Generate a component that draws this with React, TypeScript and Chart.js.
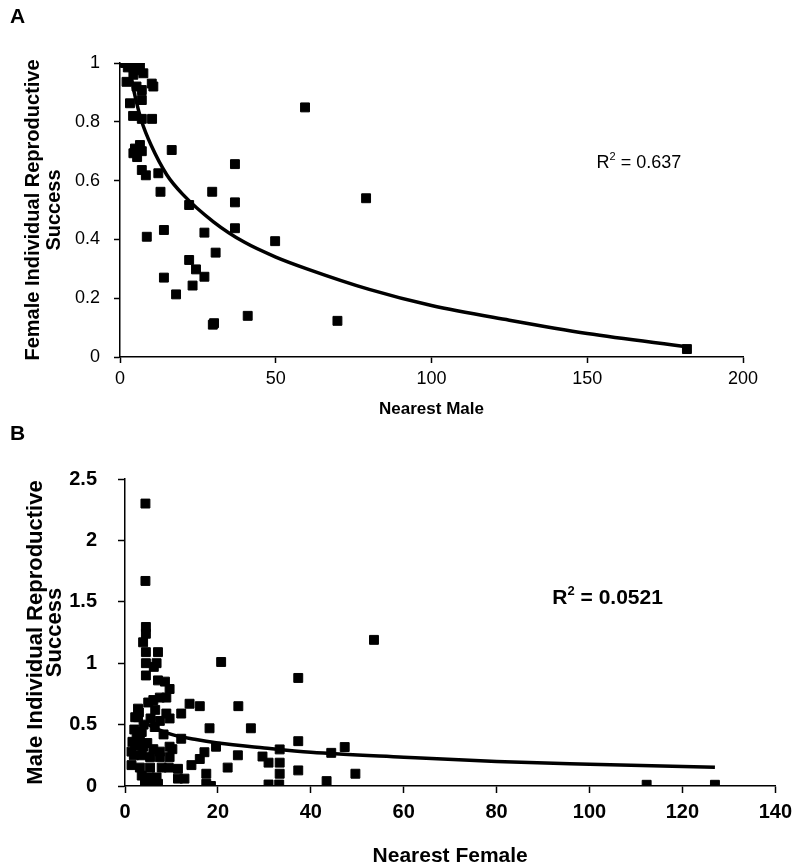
import React, { useEffect, useRef } from "react";
import { Chart, registerables } from "chart.js";
Chart.register(...registerables);

const FONT = '"Liberation Sans", Arial, Helvetica, sans-serif';

// Panel A: female reproductive success vs nearest male distance
const femaleNearestMale = [
  1.6, 3.0, 4.3, 6.0, 6.4, 2.5, 5.0, 2.1, 4.3, 7.5, 7.0, 10.2, 10.7, 5.3, 3.2, 7.0,
  4.2, 7.0, 10.3, 4.8, 6.4, 4.3, 5.5, 7.0, 7.0, 8.3, 12.3, 16.6, 36.9, 59.4, 79.0,
  36.9, 29.6, 13.0, 36.9, 22.2, 49.8, 27.1, 14.1, 8.6, 30.7, 22.2, 24.4, 27.1, 14.1,
  23.3, 18.0, 29.8, 30.2, 41.0, 69.8, 182.0,
];
const femaleSuccess = [
  1.0, 1.0, 1.0, 0.99, 0.985, 0.985, 0.975, 0.936, 0.96, 0.965, 0.908, 0.93, 0.92, 0.92, 0.863, 0.874,
  0.82, 0.81, 0.81, 0.709, 0.721, 0.693, 0.68, 0.70, 0.636, 0.618, 0.625, 0.704, 0.656, 0.849, 0.54,
  0.526, 0.562, 0.562, 0.438, 0.517, 0.394, 0.423, 0.432, 0.409, 0.355, 0.33, 0.298, 0.273, 0.27,
  0.243, 0.213, 0.11, 0.115, 0.14, 0.123, 0.027,
];
const femaleTrendX = [3, 4, 5, 7, 10, 15, 20, 30, 40, 50, 60, 80, 100, 125, 150, 182];
const femaleTrendY = [1.0, 0.93, 0.88, 0.8, 0.72, 0.62, 0.555, 0.46, 0.39, 0.34, 0.30, 0.23, 0.175, 0.125, 0.08, 0.035];
const femaleR2 = "0.637";

// Panel B: male reproductive success vs nearest female distance
const maleNearestFemale = [
  4.4, 4.4, 4.5, 4.5, 3.9, 4.5, 7.1, 4.5, 6.8, 6.2, 4.5, 7.1, 8.6, 9.6, 8.9, 7.5, 6.1, 5.0, 2.8,
  13.9, 16.1, 24.4, 12.1, 9.6, 7.5, 8.9, 2.8, 6.4, 2.5, 18.2, 27.1, 3.6, 12.1, 9.6, 19.6, 2.1,
  3.9, 6.1, 7.5, 1.9, 3.6, 5.4, 7.5, 9.6, 17.1, 16.1, 24.3, 1.4, 3.2, 5.4, 7.9, 9.4, 14.3, 22.1,
  11.4, 11.4, 12.8, 3.6, 5.4, 6.8, 17.5, 17.5, 4.3, 5.7, 7.1, 20.7, 37.3, 53.6, 37.3, 47.3, 44.4,
  33.3, 29.6, 30.9, 33.3, 33.3, 37.3, 49.6, 43.4, 30.9, 33.2, 112.3, 127.0, 1.4, 1.6, 2.0, 2.2,
  3.0, 4.0, 5.5, 6.5, 3.2, 4.8, 8.3, 10.2, 4.6, 5.8, 18.5,
];
const maleSuccess = [
  2.3, 1.67, 1.295, 1.24, 1.17, 1.09, 1.09, 1.0, 1.0, 0.97, 0.9, 0.86, 0.85, 0.79, 0.72, 0.72, 0.7, 0.68, 0.63,
  0.67, 0.65, 0.65, 0.59, 0.55, 0.53, 0.59, 0.56, 0.48, 0.43, 0.47, 0.47, 0.44, 0.385, 0.32, 0.32, 0.33,
  0.32, 0.30, 0.28, 0.25, 0.25, 0.235, 0.235, 0.235, 0.275, 0.22, 0.25, 0.17, 0.15, 0.15, 0.15, 0.15, 0.17, 0.15,
  0.14, 0.06, 0.06, 0.085, 0.07, 0.07, 0.10, 0.018, 0.018, 0.018, 0.018, 1.01, 0.88, 1.19, 0.365, 0.317, 0.27,
  0.298, 0.24, 0.19, 0.19, 0.10, 0.127, 0.10, 0.04, 0.012, 0.012, 0.01, 0.01, 0.28, 0.36, 0.46, 0.56,
  0.6, 0.5, 0.55, 0.62, 0.38, 0.35, 0.42, 0.3, 0.0, 0.0, 0.0,
];
const maleTrendX = [4, 6, 10, 15, 20, 30, 40, 60, 80, 100, 127];
const maleTrendY = [0.52, 0.48, 0.42, 0.38, 0.35, 0.31, 0.275, 0.235, 0.2, 0.178, 0.153];
const maleR2 = "0.0521";

const r2Plugin = {
  id: "r2label",
  afterDatasetsDraw(chart: any, _args: any, opts: any) {
    const { ctx } = chart;
    const xs = chart.scales.x;
    const ys = chart.scales.y;
    const px = xs.getPixelForValue(opts.x);
    const py = ys.getPixelForValue(opts.y);
    const main = `${opts.weight} ${opts.size}px ${FONT}`;
    const sup = `${opts.weight} ${Math.round(opts.size * 0.62)}px ${FONT}`;
    ctx.save();
    ctx.fillStyle = "#000";
    ctx.textBaseline = "middle";
    ctx.textAlign = "left";
    ctx.font = main;
    ctx.fillText("R", px, py);
    let w = ctx.measureText("R").width;
    ctx.font = sup;
    ctx.fillText("2", px + w, py - opts.size * 0.32);
    w += ctx.measureText("2").width;
    ctx.font = main;
    ctx.fillText(" = " + opts.value, px + w, py);
    ctx.restore();
  },
};

function toPoints(xs: number[], ys: number[]) {
  return xs.map((x, i) => ({ x, y: ys[i] }));
}

const fmt = (v: any) => String(+Number(v).toFixed(2));

interface PanelOpts {
  px: number[]; py: number[]; tx: number[]; ty: number[];
  xMax: number; xStep: number; yMax: number; yStep: number;
  xTitle: string; yTitle: string[];
  tickWeight: string; tickSize: number;
  xTitleSize: number; yTitleSize: number; yTitleLH: number; yTitlePad: number;
  yWidth: number; xHeight: number; tickLen: number; yTickPad: number; xTickPad: number;
  xTitlePad: number;
  padding: { top: number; right: number; left: number; bottom: number };
  r2: any;
}

function makeConfig(o: PanelOpts): any {
  const axisCommon = {
    grid: { drawOnChartArea: false, drawTicks: true, tickLength: o.tickLen, color: "#000", tickWidth: 1.5 },
    border: { display: true, color: "#000", width: 1.5 },
  };
  return {
    type: "scatter",
    data: {
      datasets: [
        {
          data: toPoints(o.px, o.py),
          pointStyle: "rect",
          pointRadius: 6.3,
          pointHoverRadius: 6.3,
          backgroundColor: "#000",
          borderColor: "#000",
          borderWidth: 1,
          showLine: false,
        },
        {
          data: toPoints(o.tx, o.ty),
          showLine: true,
          pointRadius: 0,
          borderColor: "#000",
          borderWidth: 3.5,
          cubicInterpolationMode: "monotone",
          fill: false,
        },
      ],
    },
    options: {
      animation: false,
      responsive: false,
      events: [],
      layout: { padding: o.padding },
      plugins: { legend: { display: false }, tooltip: { enabled: false }, r2label: o.r2 },
      scales: {
        x: {
          type: "linear",
          min: 0,
          max: o.xMax,
          ...axisCommon,
          ticks: {
            stepSize: o.xStep,
            color: "#000",
            padding: o.xTickPad,
            maxRotation: 0,
            callback: fmt,
            font: { family: FONT, size: o.tickSize, weight: o.tickWeight },
          },
          title: {
            display: true,
            text: o.xTitle,
            color: "#000",
            padding: { top: 0, bottom: o.xTitlePad },
            font: { family: FONT, size: o.xTitleSize, weight: "bold", lineHeight: 1 },
          },
          afterFit: (s: any) => { s.height = o.xHeight; },
        },
        y: {
          type: "linear",
          min: 0,
          max: o.yMax,
          ...axisCommon,
          ticks: {
            stepSize: o.yStep,
            color: "#000",
            padding: o.yTickPad,
            callback: fmt,
            font: { family: FONT, size: o.tickSize, weight: o.tickWeight },
          },
          title: {
            display: true,
            text: o.yTitle,
            color: "#000",
            padding: { top: o.yTitlePad, bottom: 0 },
            font: { family: FONT, size: o.yTitleSize, weight: "bold", lineHeight: o.yTitleLH },
          },
          afterFit: (s: any) => { s.width = o.yWidth; },
        },
      },
    },
    plugins: [r2Plugin],
  };
}

export default function App() {
  const refA = useRef<HTMLCanvasElement>(null);
  const refB = useRef<HTMLCanvasElement>(null);

  useEffect(() => {
    const a = new Chart(refA.current as HTMLCanvasElement, makeConfig({
      px: femaleNearestMale, py: femaleSuccess, tx: femaleTrendX, ty: femaleTrendY,
      xMax: 200, xStep: 50, yMax: 1, yStep: 0.2,
      xTitle: "Nearest Male", yTitle: ["Female Individual Reproductive", "Success"],
      tickWeight: "normal", tickSize: 18,
      xTitleSize: 17, yTitleSize: 20, yTitleLH: 1.05, yTitlePad: 22.5,
      yWidth: 120, xHeight: 63, tickLen: 6, yTickPad: 14, xTickPad: 5, xTitlePad: 2,
      padding: { top: 63, right: 56, left: 0, bottom: 0 },
      r2: { x: 153, y: 0.66, size: 18, weight: "normal", value: femaleR2 },
    }));
    const b = new Chart(refB.current as HTMLCanvasElement, makeConfig({
      px: maleNearestFemale, py: maleSuccess, tx: maleTrendX, ty: maleTrendY,
      xMax: 140, xStep: 20, yMax: 2.5, yStep: 0.5,
      xTitle: "Nearest Female", yTitle: ["Male Individual Reproductive", "Success"],
      tickWeight: "bold", tickSize: 20,
      xTitleSize: 21, yTitleSize: 22, yTitleLH: 0.87, yTitlePad: 26.5,
      yWidth: 125, xHeight: 82, tickLen: 7, yTickPad: 21, xTickPad: 7, xTitlePad: 1,
      padding: { top: 59, right: 21, left: 0, bottom: 0 },
      r2: { x: 92, y: 1.53, size: 21, weight: "bold", value: maleR2 },
    }));
    return () => { a.destroy(); b.destroy(); };
  }, []);

  const letter: React.CSSProperties = {
    position: "absolute", left: 10, fontFamily: FONT, fontWeight: "bold", fontSize: 21, lineHeight: "1", color: "#000",
  };

  return (
    <div style={{ position: "absolute", left: 0, top: 0, width: 799, height: 868, background: "#fff" }}>
      <canvas ref={refA} width={799} height={420} style={{ position: "absolute", left: 0, top: 0 }} />
      <canvas ref={refB} width={799} height={448} style={{ position: "absolute", left: 0, top: 420 }} />
      <div style={{ ...letter, top: 5 }}>A</div>
      <div style={{ ...letter, top: 422 }}>B</div>
    </div>
  );
}
